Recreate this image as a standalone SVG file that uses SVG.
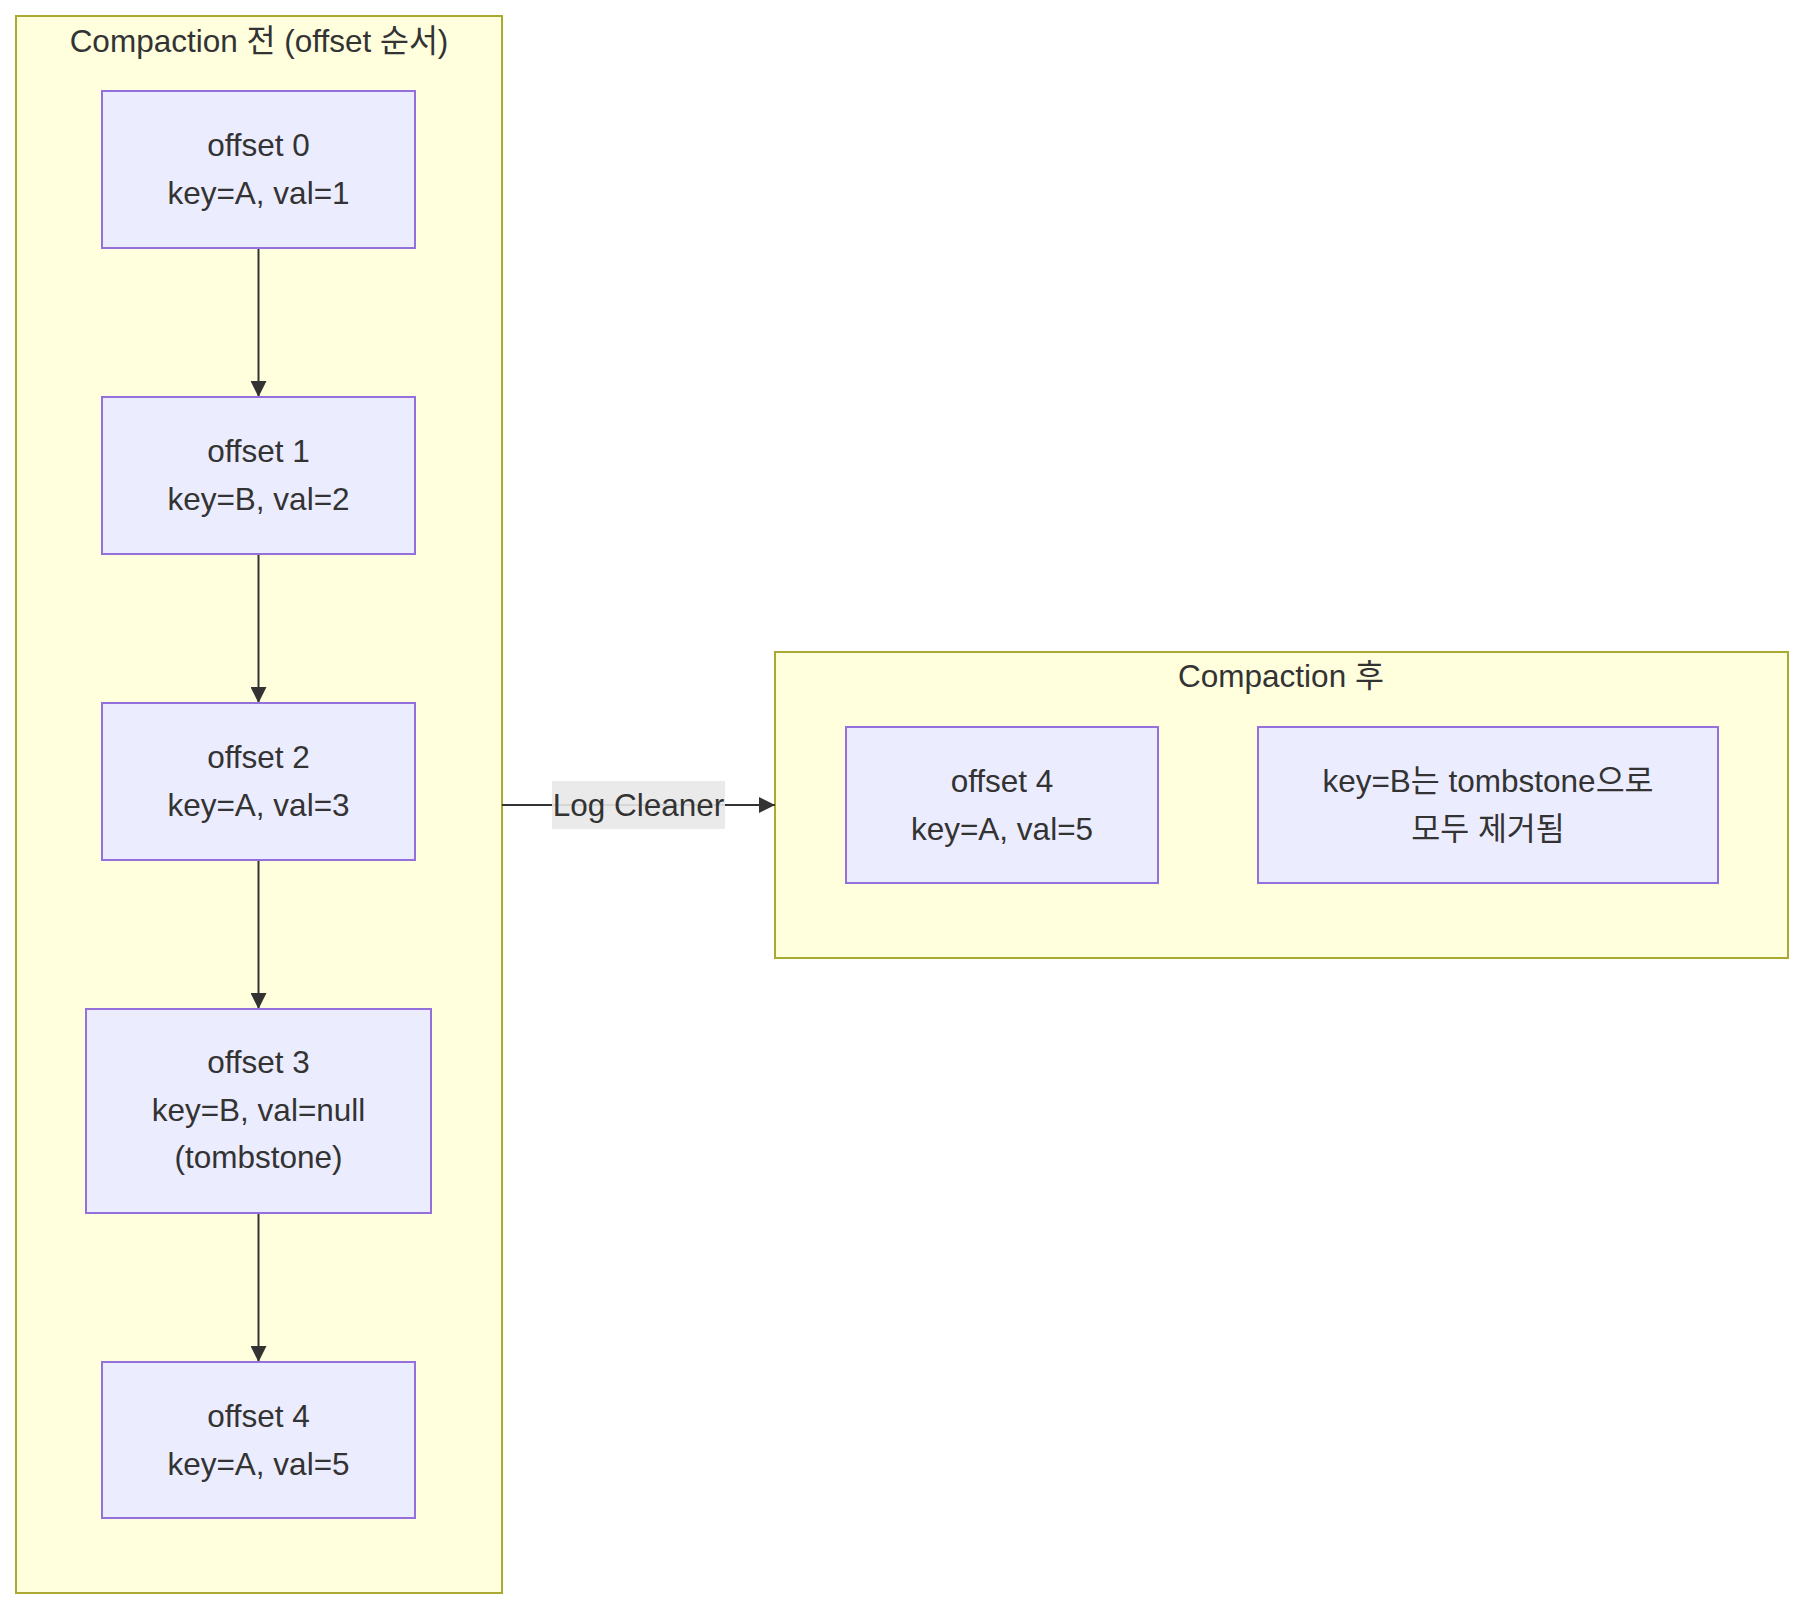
<svg xmlns="http://www.w3.org/2000/svg" width="1804" height="1610" viewBox="0 0 1804 1610">
<defs>
<style>
.cluster{fill:#ffffde;stroke:#aaaa33;stroke-width:2}
.node{fill:#ececff;stroke:#9370db;stroke-width:2}
.t{font-family:"Liberation Sans","Noto Sans CJK KR",sans-serif;font-size:31.5px;fill:#333333;text-anchor:middle}
.edge{stroke:#333333;stroke-width:2;fill:none}
</style>
<marker id="arr" viewBox="0 0 10 10" refX="10" refY="5" markerWidth="16" markerHeight="16" markerUnits="userSpaceOnUse" orient="auto">
<path d="M0,0 L10,5 L0,10 z" fill="#333333"/>
</marker>
</defs>
<rect width="1804" height="1610" fill="#ffffff"/>
<g id="cluster-before">
<rect class="cluster" x="16" y="16" width="486" height="1577"/>
<text class="t" x="259" y="52">Compaction 전 (offset 순서)</text>
</g>
<g id="cluster-after">
<rect class="cluster" x="775" y="652" width="1013" height="306"/>
<text class="t" x="1281" y="687">Compaction 후</text>
</g>
<g id="connectors">
<line class="edge" x1="258.5" y1="248" x2="258.5" y2="397" marker-end="url(#arr)"/>
<line class="edge" x1="258.5" y1="554" x2="258.5" y2="703" marker-end="url(#arr)"/>
<line class="edge" x1="258.5" y1="860" x2="258.5" y2="1009" marker-end="url(#arr)"/>
<line class="edge" x1="258.5" y1="1213" x2="258.5" y2="1362" marker-end="url(#arr)"/>
<line class="edge" x1="502" y1="805" x2="775" y2="805" marker-end="url(#arr)"/>
<rect x="552" y="781" width="173" height="48" fill="#e8e8e8" opacity="0.9"/>
<text class="t" x="638.5" y="816">Log Cleaner</text>
</g>
<g id="n0">
<rect class="node" x="102" y="91" width="313" height="157"/>
<text class="t" x="258.5" y="156">offset 0</text>
<text class="t" x="258.5" y="204">key=A, val=1</text>
</g>
<g id="n1">
<rect class="node" x="102" y="397" width="313" height="157"/>
<text class="t" x="258.5" y="462">offset 1</text>
<text class="t" x="258.5" y="510">key=B, val=2</text>
</g>
<g id="n2">
<rect class="node" x="102" y="703" width="313" height="157"/>
<text class="t" x="258.5" y="768">offset 2</text>
<text class="t" x="258.5" y="816">key=A, val=3</text>
</g>
<g id="n3">
<rect class="node" x="86" y="1009" width="345" height="204"/>
<text class="t" x="258.5" y="1073">offset 3</text>
<text class="t" x="258.5" y="1121">key=B, val=null</text>
<text class="t" x="258.5" y="1168">(tombstone)</text>
</g>
<g id="n4">
<rect class="node" x="102" y="1362" width="313" height="156"/>
<text class="t" x="258.5" y="1427">offset 4</text>
<text class="t" x="258.5" y="1475">key=A, val=5</text>
</g>
<g id="a4">
<rect class="node" x="846" y="727" width="312" height="156"/>
<text class="t" x="1002" y="792">offset 4</text>
<text class="t" x="1002" y="840">key=A, val=5</text>
</g>
<g id="aNote">
<rect class="node" x="1258" y="727" width="460" height="156"/>
<text class="t" x="1488" y="792">key=B는 tombstone으로</text>
<text class="t" x="1488" y="840">모두 제거됨</text>
</g>
</svg>
